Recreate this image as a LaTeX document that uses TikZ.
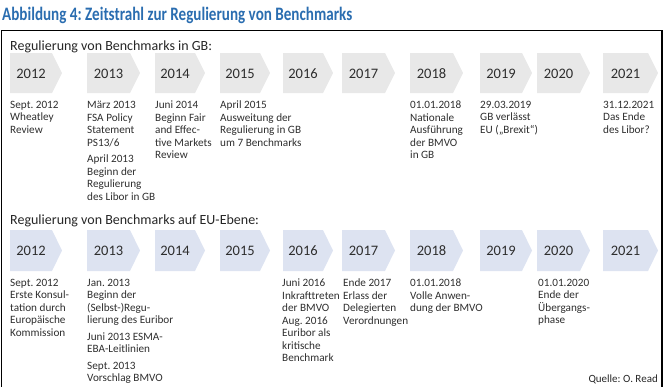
\documentclass[tikz,border=0pt]{standalone}
\usepackage{fontspec}
\setmainfont{Carlito}
\usepackage{graphicx}
\definecolor{titleblue}{HTML}{2A6DB0}
\definecolor{chevgray}{HTML}{E8E8E8}
\definecolor{chevblue}{HTML}{DDE3F1}
\definecolor{txt}{HTML}{2E2E2E}
\begin{document}
\frenchspacing
\begin{tikzpicture}[x=1pt,y=-1pt,
  titletext/.style={anchor=base west,inner sep=0pt,text=titleblue,font=\fontsize{19}{20}\selectfont\bfseries},
  hdr/.style={anchor=base west,inner sep=0pt,text=black!85,font=\fontsize{14}{16}\selectfont},
  yeartext/.style={anchor=center,inner sep=0pt,text=txt,font=\fontsize{14.5}{16}\selectfont},
  coltext/.style={anchor=north west,inner sep=0pt,align=left,text=txt,font=\fontsize{11.2}{12.5}\selectfont},
  src/.style={anchor=base east,inner sep=0pt,text=black!85,font=\fontsize{11}{12}\selectfont},
  frame/.style={draw=black,line width=1.2pt}]
\useasboundingbox (0,0) rectangle (666,386);
% title
\node[titletext] (title) at (2,20) {\resizebox{350pt}{\height}{Abbildung 4: Zeitstrahl zur Regulierung von Benchmarks}};
% frame
\draw[frame] (1.5,400) -- (1.5,30.5) -- (662,30.5) -- (662,400);
% headers
\node[hdr] (hgb) at (10,50) {Regulierung von Benchmarks in GB:};
\node[hdr] (heu) at (10,224) {Regulierung von Benchmarks auf EU-Ebene:};
% chevrons
\foreach \a/\b/\yr [count=\i] in {10/62/2012,87/140/2013,155/205/2014,220/270/2015,283/333/2016,342/395/2017,410/463/2018,480/532/2019,537/590/2020,603/658/2021}{
  \fill[chevgray] (\a,53) -- (\b-10,53) -- (\b,73) -- (\b-10,93) -- (\a,93) -- cycle;
  \node[yeartext] (gy\i) at ({(\a+\b-10)/2},73.5) {\yr};
  \fill[chevblue] (\a,230) -- (\b-10,230) -- (\b,250.5) -- (\b-10,271) -- (\a,271) -- cycle;
  \node[yeartext] (ey\i) at ({(\a+\b-10)/2},251) {\yr};
}
% GB texts
\node[coltext] (g1) at (10,101) {Sept. 2012\\Wheatley\\Review};
\node[coltext] (g2) at (87,101) {März 2013\\FSA Policy\\Statement\\PS13/6\\[4pt]April 2013\\Beginn der\\Regulierung\\des Libor in GB};
\node[coltext] (g3) at (155,101) {Juni 2014\\Beginn Fair\\and Effec-\\tive Markets\\Review};
\node[coltext] (g4) at (220,101) {April 2015\\Ausweitung der\\Regulierung in GB\\um 7 Benchmarks};
\node[coltext] (g7) at (410,101) {01.01.2018\\Nationale\\Ausführung\\der BMVO\\in GB};
\node[coltext] (g8) at (480,101) {29.03.2019\\GB verlässt\\EU („Brexit“)};
\node[coltext] (g10) at (603,101) {31.12.2021\\Das Ende\\des Libor?};
% EU texts
\node[coltext] (e1) at (10,279) {Sept. 2012\\Erste Konsul-\\tation durch\\Europäische\\Kommission};
\node[coltext] (e2) at (87,279) {Jan. 2013\\Beginn der\\(Selbst-)Regu-\\lierung des Euribor\\[4pt]Juni 2013 ESMA-\\EBA-Leitlinien\\[4pt]Sept. 2013\\Vorschlag BMVO};
\node[coltext] (e5) at (282,279) {Juni 2016\\Inkrafttreten\\der BMVO\\Aug. 2016\\Euribor als\\kritische\\Benchmark};
\node[coltext] (e6) at (343,279) {Ende 2017\\Erlass der\\Delegierten\\Verordnungen};
\node[coltext] (e7) at (410,279) {01.01.2018\\Volle Anwen-\\dung der BMVO};
\node[coltext] (e9) at (538,279) {01.01.2020\\Ende der\\Übergangs-\\phase};
% source
\node[src] (quelle) at (658,382) {Quelle: O. Read};
\end{tikzpicture}
\end{document}
